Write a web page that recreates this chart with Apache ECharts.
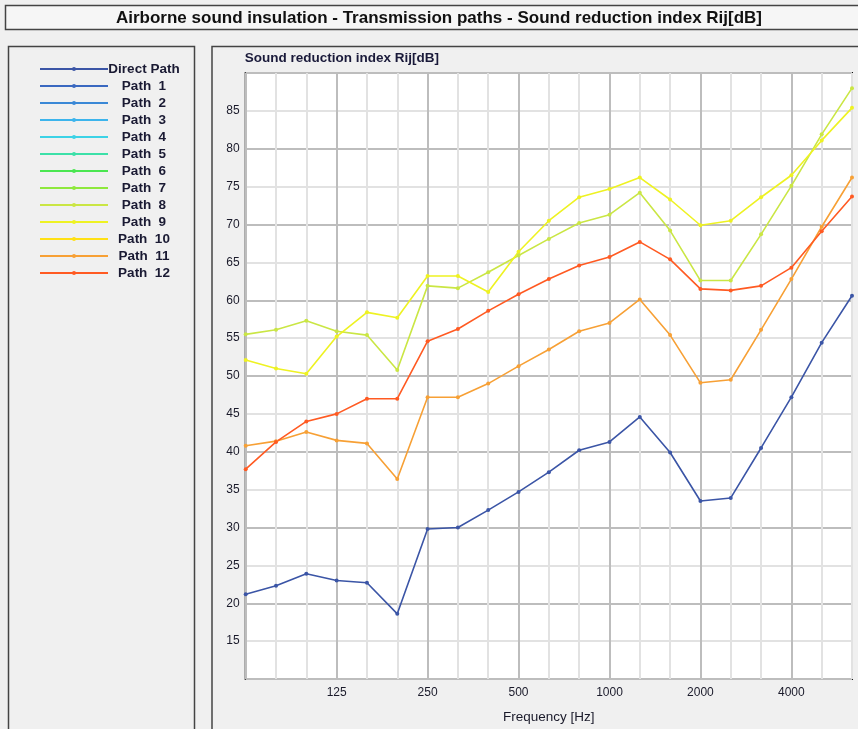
<!DOCTYPE html>
<html>
<head>
<meta charset="utf-8">
<script src="https://cdn.jsdelivr.net/npm/echarts@6/dist/echarts.min.js"></script>
<style>
html, body { margin: 0; padding: 0; background: #f0f0f0; }
#chart { width: 858px; height: 729px; }
</style>
</head>
<body>
<div id="chart"></div>
<script>
// 1/3 octave bands
var freqs = ['63', '80', '100', '125', '160', '200', '250', '315', '400', '500', '630',
  '800', '1000', '1250', '1600', '2000', '2500', '3150', '4000', '5000', '6300']

var directPath = [21.2, 22.3, 23.9, 23.0, 22.7, 18.6, 29.8, 30.0, 32.3, 34.7, 37.3,
  40.2, 41.3, 44.6, 39.9, 33.5, 33.9, 40.5, 47.2, 54.4, 60.6]
var path8 = [55.5, 56.1, 57.3, 55.9, 55.4, 50.8, 61.9, 61.6, 63.7, 65.9, 68.1,
  70.2, 71.3, 74.2, 69.2, 62.6, 62.6, 68.7, 75.1, 81.9, 88.0]
var path9 = [52.1, 51.0, 50.3, 55.2, 58.4, 57.7, 63.2, 63.2, 61.1, 66.4, 70.5,
  73.6, 74.7, 76.2, 73.3, 69.9, 70.5, 73.6, 76.5, 81.1, 85.4]
var path11 = [40.8, 41.4, 42.6, 41.5, 41.1, 36.4, 47.2, 47.2, 49.0, 51.3, 53.5,
  55.9, 57.0, 60.1, 55.4, 49.1, 49.5, 56.1, 62.8, 69.7, 76.2]
var path12 = [37.7, 41.3, 44.0, 45.0, 47.0, 47.0, 54.6, 56.2, 58.6, 60.8, 62.8,
  64.6, 65.7, 67.7, 65.4, 61.5, 61.3, 61.9, 64.3, 69.1, 73.7]

var pathNames = ['Direct Path', 'Path  1', 'Path  2', 'Path  3', 'Path  4', 'Path  5', 'Path  6',
  'Path  7', 'Path  8', 'Path  9', 'Path  10', 'Path  11', 'Path  12']
var pathColors = ['#3b55a6', '#3a68c0', '#3a88d6', '#3cb4ec', '#3cd2e6', '#3ce0a8', '#4ae650',
  '#8ee83c', '#cae644', '#eef222', '#ffe014', '#f7a035', '#ff5a22']
var pathData = [directPath, [], [], [], [], [], [], [], path8, path9, [], path11, path12]

var font = 'Liberation Sans, Arial, sans-serif'
var chart = echarts.init(document.getElementById('chart'), null, { renderer: 'canvas' })

var series = []
for (let i = 0; i < pathNames.length; i++) {
  series.push({
    name: pathNames[i],
    type: 'line',
    data: pathData[i],
    color: pathColors[i],
    symbol: 'circle',
    symbolSize: 4,
    lineStyle: { width: 1.6 },
    emphasis: { disabled: true }
  })
}

var option = {
  animation: false,
  backgroundColor: '#f0f0f0',
  graphic: [
    {
      type: 'rect', shape: { x: 5.5, y: 5.5, width: 870, height: 24 },
      style: { fill: '#f6f6f6', stroke: '#444', lineWidth: 1.5 }
    },
    {
      type: 'text', x: 439, y: 18,
      style: {
        text: 'Airborne sound insulation - Transmission paths - Sound reduction index Rij[dB]',
        font: 'bold 17px ' + font, fill: '#111', align: 'center', verticalAlign: 'middle'
      }
    },
    {
      type: 'rect', shape: { x: 8.5, y: 46.5, width: 186, height: 700 },
      style: { fill: null, stroke: '#444', lineWidth: 1.5 }
    },
    {
      type: 'rect', shape: { x: 212, y: 46.5, width: 700, height: 700 },
      style: { fill: null, stroke: '#444', lineWidth: 1.5 }
    }
  ],
  legend: {
    orient: 'vertical',
    left: 34,
    top: 57,
    itemWidth: 68,
    itemHeight: 5,
    itemGap: 3,
    selectedMode: false,
    data: pathNames,
    formatter: function (name) { return '{a|' + name + '}' },
    textStyle: {
      rich: {
        a: { width: 62, align: 'center', fontFamily: font, fontWeight: 'bold', fontSize: 13.5, lineHeight: 13, color: '#1a1a33' }
      }
    }
  },
  grid: {
    left: 245.7, top: 73, right: 6, bottom: 48,
    show: true, backgroundColor: '#fff', borderColor: '#111', borderWidth: 2
  },
  xAxis: {
    type: 'category',
    data: freqs,
    boundaryGap: false,
    name: 'Frequency [Hz]',
    nameLocation: 'middle',
    nameGap: 31,
    nameTextStyle: { fontFamily: font, fontSize: 13.5, color: '#1a1a2a' },
    axisLine: { show: false },
    axisTick: { show: false },
    axisLabel: {
      interval: function (index) { return index > 0 && index % 3 === 0 },
      margin: 8, fontFamily: font, fontSize: 12, color: '#1a1a2a'
    },
    splitLine: {
      show: true,
      interval: 0,
      lineStyle: { color: ['#bdbdbd', '#e2e2e2', '#e2e2e2'], width: 2 }
    }
  },
  yAxis: {
    type: 'value',
    min: 10,
    max: 90,
    interval: 5,
    name: 'Sound reduction index Rij[dB]',
    nameLocation: 'end',
    nameGap: 8,
    nameTextStyle: { fontFamily: font, fontSize: 13.5, fontWeight: 'bold', color: '#1a1a3a', align: 'left', padding: [0, 0, 0, -1] },
    axisLine: { show: false },
    axisTick: { show: false },
    axisLabel: {
      showMinLabel: false, showMaxLabel: false,
      margin: 6, fontFamily: font, fontSize: 12, color: '#1a1a2a'
    },
    splitLine: {
      show: true,
      lineStyle: { color: ['#bdbdbd', '#e2e2e2'], width: 2 }
    }
  },
  series: series
}
chart.setOption(option)
</script>
</body>
</html>
